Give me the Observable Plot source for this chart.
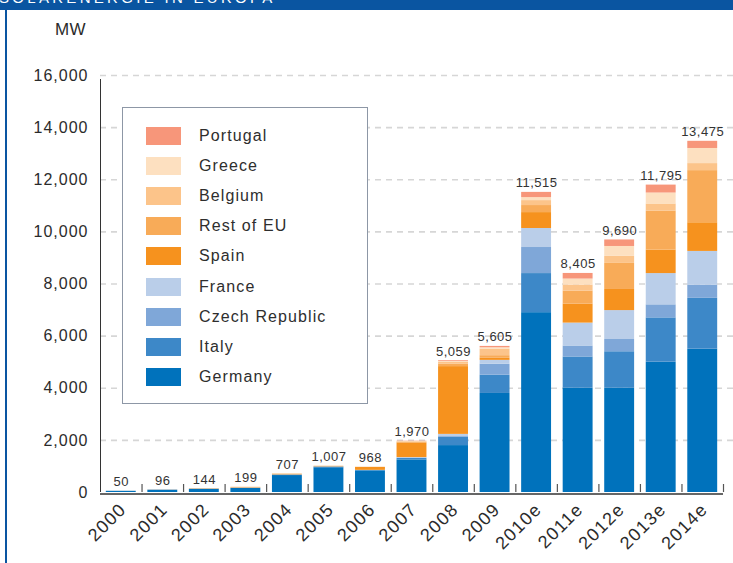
<!DOCTYPE html>
<html>
<head>
<meta charset="utf-8">
<script src="https://cdn.jsdelivr.net/npm/d3@7"></script>
<script src="https://cdn.jsdelivr.net/npm/@observablehq/plot@0.6"></script>
<style>
  html, body { margin: 0; padding: 0; background: #fff; }
  #wrap { position: relative; width: 733px; height: 563px; overflow: hidden; font-family: "Liberation Sans", Arial, Helvetica, sans-serif; }
  #band { position: absolute; left: 0; top: 0; width: 733px; height: 10px; background: #0a55a1; overflow: hidden; }
  #band span { position: absolute; left: -1px; top: -11px; color: #fff; font-size: 15px; letter-spacing: 3.3px; white-space: nowrap; }
  #edge { position: absolute; left: 5px; top: 0; width: 2px; height: 563px; background: #0a55a1; }
  #mw { position: absolute; left: 55px; top: 20px; font-size: 17px; color: #2b2b2b; letter-spacing: 0.3px; }
  #legend { position: absolute; left: 122px; top: 107px; width: 246px; height: 297px; border: 1px solid #8d97a6; background: #fff; box-sizing: border-box; }
  .lrow { position: absolute; left: 23px; height: 18px; display: flex; align-items: center; }
  .lsw { width: 35px; height: 18px; margin-right: 18px; }
  .ltx { font-size: 16px; color: #2e2e2e; letter-spacing: 1.1px; }
  svg text { letter-spacing: 1px; }
  svg g[aria-label="x-axis tick label"] text { letter-spacing: 1.3px; }
  svg g[aria-label="text"] text { letter-spacing: 0.5px; }
</style>
</head>
<body>
<div id="wrap">
  <div id="chart"></div>
  <div id="edge"></div>
  <div id="band"><span>SOLARENERGIE IN EUROPA</span></div>
  <div id="mw">MW</div>
  <div id="legend"></div>
</div>
<script>
const years = ["2000","2001","2002","2003","2004","2005","2006","2007","2008","2009","2010e","2011e","2012e","2013e","2014e"];
const series = ["Germany","Italy","Czech Republic","France","Spain","Rest of EU","Belgium","Greece","Portugal"];
const colors = ["#0072bc","#3d88c8","#7fa7d8","#bacee9","#f6921e","#f8ab58","#fcc48a","#fde0c0","#f7967a"];

const germany  = [42,85,120,155,650,950,830,1250,1800,3800,6900,4000,4000,5000,5500];
const italy    = [6,7,8,9,19,27,20,60,320,700,1500,1200,1400,1700,1950];
const czech    = [0,0,0,0,1,0,0,10,50,420,1000,420,470,500,500];
const france   = [0,0,0,5,7,8,0,20,60,150,730,880,1110,1200,1300];
const spain    = [2,4,7,12,22,15,110,560,2600,80,610,730,810,900,1100];
const restEU   = [0,0,9,18,8,7,8,30,100,100,270,500,1000,1500,2000];
const belgium  = [0,0,0,0,0,0,0,20,60,250,190,230,270,270,270];
const greece   = [0,0,0,0,0,0,0,10,40,55,115,230,380,420,580];
const portugal = [0,0,0,0,0,0,0,10,29,50,200,215,250,305,275];
const totals   = [50,96,144,199,707,1007,968,1970,5059,5605,11515,8405,9690,11795,13475];
const yTicks   = [0,2000,4000,6000,8000,10000,12000,14000,16000];

const seriesValues = [germany, italy, czech, france, spain, restEU, belgium, greece, portugal];
const rows = [];
years.forEach((yr, i) => {
  series.forEach((s, j) => rows.push({year: yr, series: s, value: seriesValues[j][i]}));
});

const W = 733, H = 563, ML = 100, MR = 10, MT = 75, MB = 71;
const step = (W - ML - MR) / years.length;
const fmt = d3.format(",");

const chart = Plot.plot({
  width: W, height: H,
  marginLeft: ML, marginRight: MR, marginTop: MT, marginBottom: MB,
  style: {fontFamily: "'Liberation Sans', Arial, Helvetica, sans-serif", color: "#2b2b2b", background: "transparent"},
  x: {domain: years, paddingInner: 0.28, paddingOuter: 0.14, round: false, label: null},
  y: {domain: [0, 16000], label: null},
  color: {domain: series, range: colors},
  marks: [
    Plot.ruleY(yTicks.filter(d => d > 0), {stroke: "#d6d6d6", strokeWidth: 1.6, strokeDasharray: "6,5", insetRight: -10}),
    Plot.ruleY([0], {stroke: "#666", strokeWidth: 2, dy: 1.5}),
    Plot.barY(rows, {x: "year", y: "value", fill: "series"}),
    Plot.text(years, {x: d => d, y: (d, i) => totals[i], text: (d, i) => fmt(totals[i]), dy: -5, lineAnchor: "bottom", fontSize: 13, fill: "#333"}),
    Plot.ruleX(years.slice(1), {x: d => d, dx: -step / 2, insetTop: (H - MT - MB) - 8, stroke: "#555", strokeWidth: 1.2}),
    Plot.ruleX([years[years.length - 1]], {x: d => d, dx: step / 2, insetTop: (H - MT - MB) - 8, stroke: "#555", strokeWidth: 1.2}),
    Plot.ruleX([years[0]], {x: d => d, dx: -step / 2, insetTop: 4, stroke: "#333", strokeWidth: 1}),
    Plot.axisY({ticks: yTicks, tickSize: 0, tickPadding: 12, fontSize: 16, tickFormat: fmt, label: null}),
    Plot.axisX({tickSize: 0, tickRotate: -45, fontSize: 18, tickPadding: 14, dx: 2, label: null})
  ]
});
document.getElementById("chart").appendChild(chart);

// legend (top to bottom: Portugal ... Germany)
const legend = document.getElementById("legend");
const order = series.map((s, j) => j).reverse();
order.forEach((j, k) => {
  const row = document.createElement("div");
  row.className = "lrow";
  row.style.top = (19 + k * 30.1) + "px";
  const sw = document.createElement("div");
  sw.className = "lsw";
  sw.style.background = colors[j];
  const tx = document.createElement("div");
  tx.className = "ltx";
  tx.textContent = series[j];
  row.appendChild(sw); row.appendChild(tx);
  legend.appendChild(row);
});
</script>
</body>
</html>
